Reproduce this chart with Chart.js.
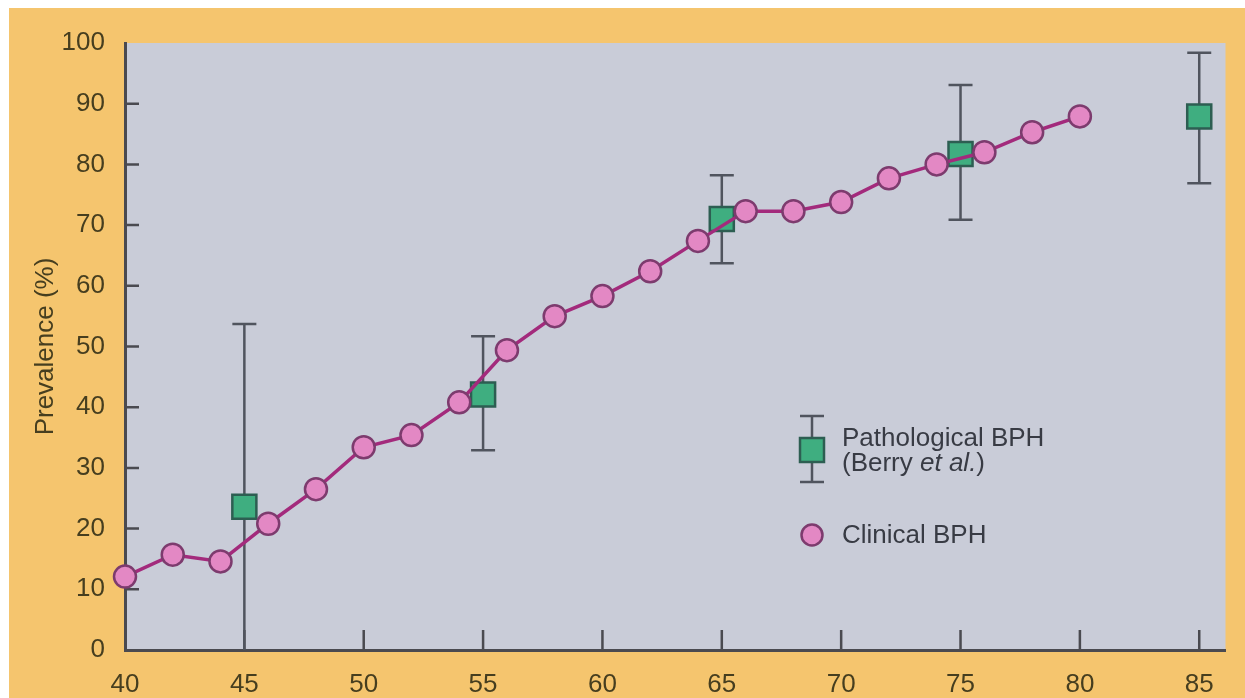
<!DOCTYPE html>
<html>
<head>
<meta charset="utf-8">
<script src="https://cdn.jsdelivr.net/npm/chart.js@4.4.1/dist/chart.umd.min.js"></script>
<style>
  html, body { margin: 0; padding: 0; background: #ffffff; }
  #frame { position: absolute; left: 9px; top: 8px; width: 1236px; height: 690px; background: #f5c56e; }
  #wrap { position: absolute; left: 0; top: 0; width: 1245px; height: 698px; }
</style>
</head>
<body>
<div id="frame"></div>
<div id="wrap"><canvas id="bph"></canvas></div>
<script>
const clinicalAges = [40, 42, 44, 46, 48, 50, 52, 54, 56, 58, 60, 62, 64, 66, 68, 70, 72, 74, 76, 78, 80];
const clinicalPrevalence = [12.1, 15.7, 14.6, 20.8, 26.5, 33.4, 35.4, 40.8, 49.4, 55.0, 58.3, 62.4, 67.4, 72.3, 72.3, 73.8, 77.7, 80.0, 82.0, 85.3, 87.9];

const pathAges = [45, 55, 65, 75, 85];
const pathPrevalence = [23.6, 42.1, 71.0, 81.7, 87.9];
const pathLow = [0, 32.9, 63.7, 70.9, 76.9];
const pathHigh = [53.7, 51.7, 78.2, 93.1, 98.4];

const xTicks = [40, 45, 50, 55, 60, 65, 70, 75, 80, 85];
const yTicks = [0, 10, 20, 30, 40, 50, 60, 70, 80, 90, 100];

const FONT = '"Liberation Sans", Arial, sans-serif';
const labelColor = '#463e1f';
const axisColor = '#4a4a50';

// grey plot area behind everything
const plotBackground = {
  id: 'plotBackground',
  beforeDraw(chart) {
    const { ctx, chartArea: a } = chart;
    ctx.save();
    ctx.fillStyle = '#c9ccd8';
    ctx.fillRect(a.left, a.top, a.right - a.left, a.bottom - a.top);
    ctx.restore();
  }
};

// tick marks point into the plot, error bars sit under the markers
const innerTicksAndErrors = {
  id: 'innerTicksAndErrors',
  beforeDatasetsDraw(chart) {
    const { ctx, chartArea: a, scales: { x, y } } = chart;
    ctx.save();
    ctx.strokeStyle = axisColor;
    ctx.lineWidth = 2.5;
    ctx.beginPath();
    yTicks.filter((v) => v > 0 && v < 100).forEach((v) => {
      const py = y.getPixelForValue(v);
      ctx.moveTo(a.left, py);
      ctx.lineTo(a.left + 14, py);
    });
    xTicks.filter((v) => v > 40).forEach((v) => {
      const px = x.getPixelForValue(v);
      ctx.moveTo(px, a.bottom);
      ctx.lineTo(px, a.bottom - 20);
    });
    ctx.stroke();

    ctx.strokeStyle = '#50545e';
    ctx.lineWidth = 2.5;
    ctx.beginPath();
    pathAges.forEach((age, i) => {
      const px = x.getPixelForValue(age);
      const top = y.getPixelForValue(pathHigh[i]);
      const bot = y.getPixelForValue(pathLow[i]);
      ctx.moveTo(px, top);
      ctx.lineTo(px, bot);
      ctx.moveTo(px - 12, top);
      ctx.lineTo(px + 12, top);
      if (pathLow[i] > 0) {
        ctx.moveTo(px - 12, bot);
        ctx.lineTo(px + 12, bot);
      }
    });
    ctx.stroke();
    ctx.restore();
  }
};

// legend drawn inside the plot, as in the figure
const insideLegend = {
  id: 'insideLegend',
  afterDatasetsDraw(chart) {
    const { ctx } = chart;
    const ix = 812;
    ctx.save();
    ctx.strokeStyle = '#50545e';
    ctx.lineWidth = 2.5;
    ctx.beginPath();
    ctx.moveTo(ix, 416); ctx.lineTo(ix, 482);
    ctx.moveTo(ix - 12, 416); ctx.lineTo(ix + 12, 416);
    ctx.moveTo(ix - 12, 482); ctx.lineTo(ix + 12, 482);
    ctx.stroke();
    ctx.fillStyle = '#3fae80';
    ctx.strokeStyle = '#2d5e52';
    ctx.lineWidth = 2.5;
    ctx.fillRect(ix - 12, 438, 24, 24);
    ctx.strokeRect(ix - 12, 438, 24, 24);

    ctx.beginPath();
    ctx.arc(ix, 535, 10.5, 0, Math.PI * 2);
    ctx.fillStyle = '#e388c4';
    ctx.fill();
    ctx.strokeStyle = '#7d3b6e';
    ctx.stroke();

    ctx.fillStyle = '#383b44';
    ctx.textBaseline = 'alphabetic';
    ctx.font = '26px ' + FONT;
    ctx.fillText('Pathological BPH', 842, 446);
    let tx = 842;
    ctx.fillText('(Berry ', tx, 471);
    tx += ctx.measureText('(Berry ').width;
    ctx.font = 'italic 26px ' + FONT;
    ctx.fillText('et al.', tx, 471);
    tx += ctx.measureText('et al.').width;
    ctx.font = '26px ' + FONT;
    ctx.fillText(')', tx, 471);
    ctx.fillText('Clinical BPH', 842, 543);
    ctx.restore();
  }
};

new Chart(document.getElementById('bph'), {
  type: 'line',
  data: {
    datasets: [
      {
        label: 'Clinical BPH',
        data: clinicalAges.map((a, i) => ({ x: a, y: clinicalPrevalence[i] })),
        borderColor: '#a32a7c',
        borderWidth: 3.5,
        pointStyle: 'circle',
        pointRadius: 11,
        pointBackgroundColor: '#e388c4',
        pointBorderColor: '#7d3b6e',
        pointBorderWidth: 2.5,
        tension: 0,
        clip: false
      },
      {
        label: 'Pathological BPH (Berry et al.)',
        data: pathAges.map((a, i) => ({ x: a, y: pathPrevalence[i] })),
        showLine: false,
        pointStyle: 'rect',
        pointRadius: 17,
        pointBackgroundColor: '#3fae80',
        pointBorderColor: '#2d5e52',
        pointBorderWidth: 2.5,
        clip: false
      }
    ]
  },
  options: {
    responsive: true,
    maintainAspectRatio: false,
    animation: false,
    layout: { padding: { top: 43, right: 17, left: 0, bottom: 0 } },
    plugins: {
      legend: { display: false },
      tooltip: { enabled: false }
    },
    scales: {
      x: {
        type: 'linear',
        min: 40,
        max: 86.1,
        afterBuildTicks: (scale) => { scale.ticks = xTicks.map((v) => ({ value: v })); },
        afterFit: (scale) => { scale.height = 48; },
        grid: { display: false },
        border: { display: true, color: axisColor, width: 3 },
        ticks: {
          color: labelColor,
          padding: 11,
          font: { family: FONT, size: 26 }
        }
      },
      y: {
        type: 'linear',
        min: 0,
        max: 100,
        afterBuildTicks: (scale) => { scale.ticks = yTicks.map((v) => ({ value: v })); },
        afterFit: (scale) => { scale.width = 125; },
        grid: { display: false },
        border: { display: true, color: axisColor, width: 3 },
        title: {
          display: true,
          text: 'Prevalence (%)',
          color: labelColor,
          padding: { top: 30, bottom: 0 },
          font: { family: FONT, size: 26 }
        },
        ticks: {
          color: labelColor,
          padding: 12,
          font: { family: FONT, size: 26 }
        }
      }
    }
  },
  plugins: [plotBackground, innerTicksAndErrors, insideLegend]
});
</script>
</body>
</html>
